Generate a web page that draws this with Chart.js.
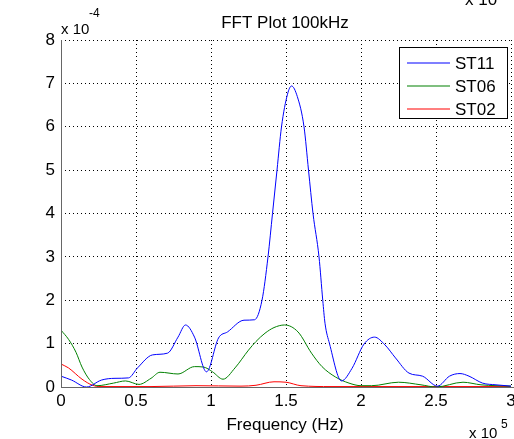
<!DOCTYPE html>
<html>
<head>
<meta charset="utf-8">
<script src="https://cdn.jsdelivr.net/npm/chart.js@4"></script>
<style>
  html, body { margin: 0; padding: 0; background: #fff; }
  #wrap { width: 514px; height: 439px; }
</style>
</head>
<body>
<div id="wrap"><canvas id="c" width="514" height="439"></canvas></div>
<script>
// frequency in units of 1e5 Hz, amplitude in units of 1e-4
const st11Freq = [0, 0.07, 0.17, 0.27, 0.36, 0.45, 0.51, 0.61, 0.71, 0.78, 0.83, 0.89, 0.97, 1.05, 1.11, 1.22, 1.29, 1.34, 1.38, 1.41, 1.44, 1.47, 1.51, 1.537, 1.575, 1.62, 1.65, 1.68, 1.72, 1.745, 1.76, 1.79, 1.87, 1.94, 2.02, 2.09, 2.16, 2.23, 2.32, 2.41, 2.51, 2.59, 2.66, 2.72, 2.81, 2.9, 3.0];
const st11Amp  = [0.25, 0.16, 0.0, 0.16, 0.2, 0.21, 0.44, 0.74, 0.78, 1.15, 1.43, 1.15, 0.35, 1.13, 1.27, 1.54, 1.55, 2.0, 3.0, 4.0, 5.0, 6.0, 6.75, 6.94, 6.7, 6.0, 5.0, 4.0, 3.0, 2.0, 1.47, 1.0, 0.14, 0.43, 0.99, 1.15, 0.97, 0.67, 0.32, 0.25, 0.02, 0.25, 0.31, 0.25, 0.09, 0.05, 0.02];

const st06Freq = [0, 0.05, 0.1, 0.14, 0.19, 0.24, 0.35, 0.43, 0.52, 0.6, 0.66, 0.78, 0.89, 0.95, 1.01, 1.08, 1.16, 1.25, 1.3, 1.36, 1.42, 1.49, 1.58, 1.67, 1.74, 1.83, 1.92, 2.0, 2.07, 2.25, 2.4, 2.5, 2.68, 2.8, 3.0];
const st06Amp  = [1.31, 1.1, 0.8, 0.46, 0.17, 0.03, 0.09, 0.14, 0.06, 0.2, 0.34, 0.3, 0.47, 0.46, 0.35, 0.18, 0.44, 0.85, 1.05, 1.24, 1.37, 1.43, 1.27, 0.78, 0.47, 0.23, 0.09, 0.03, 0.03, 0.11, 0.05, 0.0, 0.11, 0.05, 0.02];

const st02Freq = [0, 0.05, 0.14, 0.21, 0.26, 0.6, 0.9, 1.2, 1.3, 1.42, 1.5, 1.6, 1.8, 2.5, 3.0];
const st02Amp  = [0.53, 0.44, 0.18, 0.04, 0.01, 0.01, 0.03, 0.02, 0.04, 0.12, 0.11, 0.03, 0.01, 0.01, 0.01];

const seriesNames = ['ST11', 'ST06', 'ST02'];
const seriesColors = ['#0000ff', '#008000', '#ff0000'];

function pts(xs, ys) { return xs.map((x, i) => ({x: x, y: ys[i]})); }

const FONT = '"Liberation Sans", Arial, sans-serif';

const textPlugin = {
  id: 'matlabText',
  afterDraw(chart) {
    const ctx = chart.ctx;
    const a = chart.chartArea;
    ctx.save();
    ctx.setLineDash([]);
    // solid axis lines (left and bottom)
    ctx.fillStyle = '#666';
    ctx.fillRect(Math.round(a.left), Math.round(a.top), 1, Math.round(a.bottom - a.top) + 1);
    ctx.fillRect(Math.round(a.left), Math.round(a.bottom), Math.round(a.right - a.left) + 3, 1);

    ctx.fillStyle = '#000';
    ctx.textBaseline = 'alphabetic';
    // title
    ctx.font = '17px ' + FONT;
    ctx.textAlign = 'center';
    ctx.fillText('FFT Plot 100kHz', 285, 28);
    // clipped text from neighbouring plot
    ctx.textAlign = 'left';
    ctx.fillText('x 10', 465, 5);
    // y exponent
    ctx.font = '15px ' + FONT;
    ctx.fillText('x 10', 61, 34);
    ctx.font = '12px ' + FONT;
    ctx.fillText('-4', 89, 17);
    // x label
    ctx.font = '17px ' + FONT;
    ctx.textAlign = 'center';
    ctx.fillText('Frequency (Hz)', 285, 430);
    // x exponent
    ctx.textAlign = 'left';
    ctx.font = '15px ' + FONT;
    ctx.fillText('x 10', 469, 438);
    ctx.font = '12px ' + FONT;
    ctx.fillText('5', 501, 428);

    // legend box
    const lx = 399, ly = 47, lw = 108, lh = 71;
    ctx.fillStyle = '#fff';
    ctx.fillRect(lx, ly, lw, lh);
    ctx.fillStyle = '#000';
    ctx.fillRect(lx, ly, lw + 1, 1);
    ctx.fillRect(lx, ly + lh, lw + 1, 1);
    ctx.fillRect(lx, ly, 1, lh + 1);
    ctx.fillRect(lx + lw, ly, 1, lh + 1);
    ctx.font = '17px ' + FONT;
    ctx.lineWidth = 1.2;
    for (let i = 0; i < seriesNames.length; i++) {
      const yy = 63 + i * 23;
      ctx.strokeStyle = seriesColors[i];
      ctx.beginPath();
      ctx.moveTo(407, yy);
      ctx.lineTo(450, yy);
      ctx.stroke();
      ctx.fillStyle = '#000';
      ctx.fillText(seriesNames[i], 455, yy + 6);
    }
    ctx.restore();
  }
};

new Chart(document.getElementById('c'), {
  type: 'line',
  data: {
    datasets: seriesNames.map((name, i) => ({
      label: name,
      data: pts([st11Freq, st06Freq, st02Freq][i], [st11Amp, st06Amp, st02Amp][i]),
      borderColor: seriesColors[i],
      borderWidth: 1,
      pointRadius: 0,
      fill: false,
      cubicInterpolationMode: 'monotone'
    }))
  },
  options: {
    responsive: false,
    animation: false,
    layout: {padding: {left: 0, top: 40, right: 3, bottom: 0}},
    plugins: {legend: {display: false}, tooltip: {enabled: false}},
    scales: {
      x: {
        type: 'linear', min: 0, max: 3,
        afterFit(s) { s.height = 52; s.paddingLeft = 0; s.paddingRight = 0; },
        ticks: {stepSize: 0.5, color: '#000', font: {family: FONT, size: 17}, padding: 4, maxRotation: 0,
                callback: v => String(Number(v))},
        grid: {color: '#000', drawTicks: false, lineWidth: 1},
        border: {display: false, dash: [1, 3]}
      },
      y: {
        min: 0, max: 8,
        afterFit(s) { s.width = 61; s.paddingTop = 0; s.paddingBottom = 0; },
        ticks: {stepSize: 1, color: '#000', font: {family: FONT, size: 17}, padding: 6},
        grid: {color: '#000', drawTicks: false, lineWidth: 1},
        border: {display: false, dash: [1, 3]}
      }
    }
  },
  plugins: [textPlugin]
});
</script>
</body>
</html>
